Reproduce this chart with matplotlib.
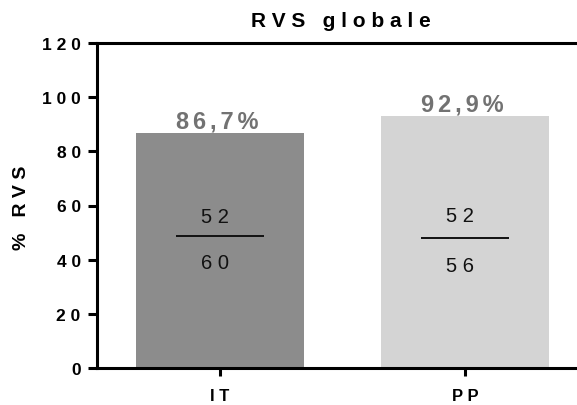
import matplotlib
matplotlib.use("Agg")
import matplotlib.pyplot as plt

plt.rcParams['font.family'] = ['Liberation Sans', 'DejaVu Sans']

categories = ["IT", "PP"]
values = [86.7, 92.9]
value_labels = ["86,7%", "92,9%"]
numerators = ["52", "52"]
denominators = ["60", "56"]
bar_colors = ["#8c8c8c", "#d4d4d4"]
yticks = [0, 20, 40, 60, 80, 100, 120]
title = "RVS globale"
ylabel = "% RVS"

SP = " "             # letter spacing for most text
SP_VAL = "\u2006"    # six-per-em space for value labels


def spaced(s, sep=SP):
    return sep.join(list(s))


W, H = 577, 406
fig = plt.figure(figsize=(W / 100, H / 100), dpi=100)
ax_l, ax_r, ax_t, ax_b = 97.3, 577, 44, 369
ax = fig.add_axes([ax_l / W, (H - ax_b) / H, (ax_r - ax_l) / W, (ax_b - ax_t) / H])

x = list(range(len(categories)))
ax.bar(x, values, width=0.684, color=bar_colors, zorder=2)

ax.set_xlim(-0.498, 1.456)
ax.set_ylim(0, 120)

ax.set_yticks(yticks)
ax.set_yticklabels([spaced(str(t)) for t in yticks], fontsize=12.5, fontweight="bold")
ax.set_xticks(x)
ax.set_xticklabels([spaced(c) for c in categories], fontsize=12, fontweight="bold")

for side in ["left", "bottom", "top"]:
    ax.spines[side].set_linewidth(2.2)
ax.spines["right"].set_visible(False)
ax.tick_params(axis="y", width=2.2, length=6.5, direction="out", pad=5.5)
ax.tick_params(axis="x", width=2.2, length=6, direction="out", pad=8.5)

fig.text(22 / W, 1 - 208 / H, spaced(ylabel), rotation=90, ha="center", va="center",
         fontsize=14, fontweight="bold")
fig.text(341 / W, 1 - 26.7 / H, spaced(title), ha="center", va="baseline",
         fontsize=15, fontweight="bold")

# percentage labels above bars
for xi, v, lab in zip(x, values, value_labels):
    ax.annotate(spaced(lab, SP_VAL), (xi, v), xytext=(-1.8, 4), textcoords="offset points",
                ha="center", va="baseline", fontsize=17, fontweight="bold", color="#727272")

# fractions inside bars
line_half = 0.179
line_y = [48.7, 48.0]
num_y = [56.1, 56.2]
den_y = [39.1, 38.0]
for xi, num, den, ly, ny, dy in zip(x, numerators, denominators, line_y, num_y, den_y):
    ax.plot([xi - line_half, xi + line_half], [ly, ly], color="#111111", lw=1.4, zorder=3,
            solid_capstyle="butt")
    ax.text(xi - 0.02, ny, spaced(num), ha="center", va="center", fontsize=14.5,
            color="#111111", zorder=3)
    ax.text(xi - 0.02, dy, spaced(den), ha="center", va="center", fontsize=14.5,
            color="#111111", zorder=3)

fig.savefig("out.png", dpi=100)
